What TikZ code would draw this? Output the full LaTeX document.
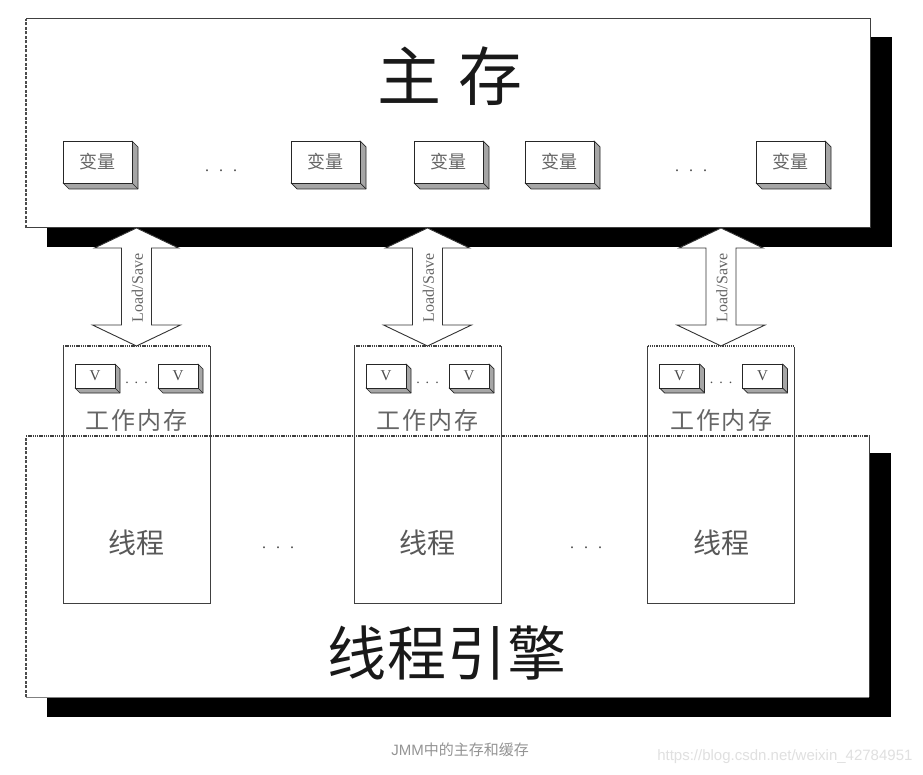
\documentclass[tikz,border=0pt]{standalone}
\usepackage{fontspec}
\setmainfont{Liberation Serif}
\newfontfamily\cjk{Noto Sans CJK SC}
\newfontfamily\capfont{Liberation Sans}
\usetikzlibrary{calc}

\newcommand\fsz[1]{\fontsize{#1}{#1}\selectfont}
% 3D extrusion behind a named front-face node: #1 node name, #2 depth
\newcommand\extrude[2]{%
  \filldraw[extr] (#1.north east) -- ($(#1.north east)+(#2,#2)$) -- ($(#1.south east)+(#2,#2)$)
    -- ($(#1.south west)+(#2,#2)$) -- (#1.south west) -- (#1.south east) -- cycle;
  \draw[extr] (#1.south east) -- ($(#1.south east)+(#2,#2)$);}
% hollow double arrow between two named coordinates (top tip, bottom tip)
\newcommand\loadsave[2]{%
  \draw[blockarrow] (#1) -- ++(42,20) -- ++(-27,0) -- ($(#2)+(15,-21)$) -- ++(29,0) -- (#2)
    -- ($(#2)+(-44,-21)$) -- ++(29,0) -- ($(#1)+(-15,20)$) -- ++(-27,0) -- cycle;}

\begin{document}
\begin{tikzpicture}[x=1pt,y=-1pt,
  shadowbox/.style={fill=black,draw=none},
  panel/.style={fill=white,draw=none,inner sep=0pt,outer sep=0pt},
  edge/.style={draw=black!75,line width=1pt},
  dashedge/.style={draw=black!70,line width=1.1pt,dash pattern=on 3pt off 1.5pt},
  dotedge/.style={draw=black!75,line width=1.1pt,dash pattern=on 1.3pt off 0.9pt},
  extr/.style={fill=black!35,draw=black!85,line width=0.7pt,line join=round},
  varface/.style={fill=white,draw=black!85,line width=0.9pt,minimum width=69pt,minimum height=42pt,inner sep=0pt,outer sep=0pt,
    font=\cjk\fsz{18},text=black!60},
  vface/.style={fill=white,draw=black!85,line width=0.9pt,minimum width=40pt,minimum height=24pt,inner sep=0pt,outer sep=0pt,
    font=\fsz{15},text=black!70},
  thread/.style={draw=black!75,line width=0.9pt,minimum width=147pt,minimum height=257pt,inner sep=0pt,outer sep=0pt},
  blockarrow/.style={fill=white,draw=black!80,line width=0.9pt,line join=miter},
  dots/.style={font=\fsz{16},text=black!70,inner sep=0pt},
  title/.style={font=\cjk\fsz{62},text=black!90},
  label/.style={font=\cjk\fsz{24},text=black!60},
  tlabel/.style={font=\cjk\fsz{28},text=black!65},
  lslabel/.style={font=\fsz{16},text=black!60,rotate=90,inner sep=0pt}
]
\useasboundingbox[fill=white] (0,0) rectangle (923,775);

% ---------- main memory ----------
\fill[shadowbox] (47,37) rectangle (892,247);
\node[panel,minimum width=844pt,minimum height=209pt] (mm) at (448,123.5) {};
\draw[edge] (mm.north west) -- (mm.north east) -- (mm.south east) -- (mm.south west);
\draw[dashedge] (mm.south west) -- (mm.north west);
\node[title,font=\cjk\fsz{64}] (mmt) at (450,76) {主\hspace{18pt}存};

\foreach \i/\x in {1/97.5,2/325.5,3/448.5,4/559.5,5/790.5}{
  \node[varface] (var\i) at (\x,162) {};
  \extrude{var\i}{6}
  \node[varface] (varf\i) at (\x,162) {变量};
}
\node[dots] (md1) at (221,171) {.\hspace{10pt}.\hspace{10pt}.};
\node[dots] (md2) at (691,171) {.\hspace{10pt}.\hspace{10pt}.};

% ---------- thread engine ----------
\fill[shadowbox] (47,453) rectangle (891,717);
\node[panel,minimum width=843pt,minimum height=261pt] (te) at (447.5,566.5) {};
\draw[edge] (te.north east) -- (te.south east);
\draw[draw=black!50,line width=1pt] (te.south east) -- (te.south west);
\draw[dashedge] (te.south west) -- (te.north west);
\draw[dotedge] (te.north west) -- (te.north east);
\node[title,font=\cjk\fsz{59}] (tet) at (447,653) {线\hspace{1pt}程\hspace{1pt}引\hspace{1pt}擎};

% ---------- threads with working memory ----------
\foreach \i/\cx in {1/136.5,2/427.5,3/721}{
  \node[thread] (wm\i) at (\cx,474.5) {};
  \draw[draw=white,line width=1.4pt] (wm\i.north west) -- (wm\i.north east);
  \draw[dotedge] (wm\i.north west) -- (wm\i.north east);
  \node[vface] (va\i) at ($(wm\i.north)+(-41.5,30)$) {};
  \extrude{va\i}{5}
  \node[vface] (vaf\i) at (va\i) {V};
  \node[vface] (vb\i) at ($(wm\i.north)+(41.5,30)$) {};
  \extrude{vb\i}{5}
  \node[vface] (vbf\i) at (vb\i) {V};
  \node[dots,font=\fsz{14}] (vd\i) at ($(wm\i.north)+(0,37)$) {.\hspace{6pt}.\hspace{6pt}.};
  \node[label] (wml\i) at ($(wm\i.north)+(0,74)$) {工\hspace{2pt}作\hspace{2pt}内\hspace{2pt}存};
  \node[tlabel] (thl\i) at ($(wm\i.north)+(0,197)$) {线程};
  \coordinate (top\i) at (mm.south -| wm\i.north);
  \coordinate (bot\i) at (wm\i.north);
  \loadsave{top\i}{bot\i}
  \node[lslabel] (ls\i) at ($(top\i)+(1,60)$) {Load/Save};
}
\node[dots] (td1) at (278,548) {.\hspace{10pt}.\hspace{10pt}.};
\node[dots] (td2) at (586,548) {.\hspace{10pt}.\hspace{10pt}.};

% ---------- caption & watermark ----------
\node[font=\fsz{15},text=black!42] (cap) at (460,750) {\capfont JMM\cjk 中的主存和缓存};
\node[font=\capfont\fsz{15},text=black!12,anchor=east] (wmk) at (916,757) {https://blog.csdn.net/weixin\_42784951};
\end{tikzpicture}
\end{document}
